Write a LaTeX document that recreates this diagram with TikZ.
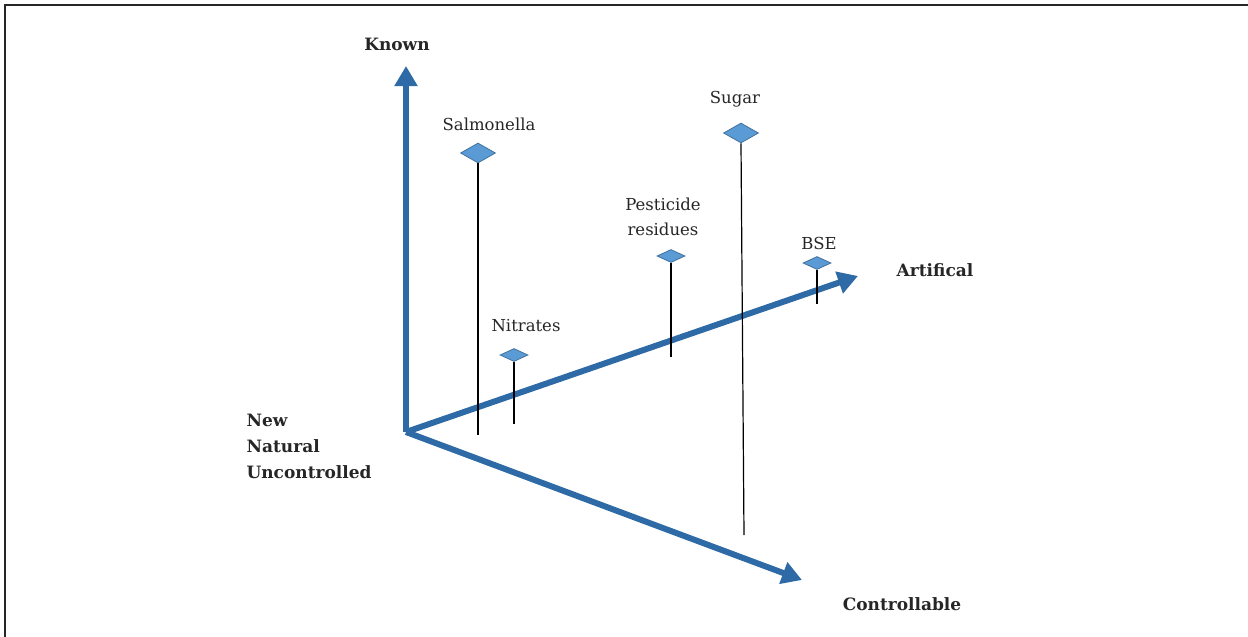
\documentclass[tikz,border=0pt]{standalone}
\usepackage{fontspec}
\setmainfont{DejaVu Serif}
\usepackage{tikz}
\usetikzlibrary{arrows.meta,shapes.geometric}
\usepackage{xcolor}
\definecolor{axisblue}{HTML}{2E6AA5}
\definecolor{markfill}{HTML}{5B9BD5}
\definecolor{markedge}{HTML}{41719C}

\begin{document}
\begin{tikzpicture}[x=1pt,y=-1pt,
  axis/.style={draw=axisblue,line width=6pt,-{Triangle[width=22pt,length=20pt]}},
  marker/.style={diamond,draw=markedge,fill=markfill,line width=0.8pt,inner sep=0pt,
    minimum width=35pt,minimum height=20pt},
  smallmarker/.style={marker,minimum width=28pt,minimum height=13pt},
  stem/.style={draw=black,line width=1.2pt},
  lbl/.style={font=\fontsize{16.5}{25}\selectfont,align=center,text=black!85},
  axislbl/.style={font=\fontsize{17}{26}\selectfont\bfseries,text=black!85}]
  \useasboundingbox (0,0) rectangle (1248,637);
  % frame
  \draw[line width=2.2pt,black!85] (5,637) -- (5,5) -- (1248,5);

  % axes
  \coordinate (origin) at (406,432);
  \coordinate (knowntip) at (406,66);
  \coordinate (arttip) at (858,276);
  \coordinate (contip) at (802,580);
  \draw[axis] (origin) -- (knowntip);
  \draw[axis] (origin) -- (arttip);
  \draw[axis] (origin) -- (contip);
  \node[axislbl] (known) at (397,44) {Known};
  \node[axislbl] (artif) at (935,270) {Artifical};
  \node[axislbl] (contr) at (902,604) {Controllable};
  \node[axislbl,align=left,anchor=west] (newnat) at (243,446) {New\\Natural\\Uncontrolled};

  % hazards
  \node[marker] (salm) at (478,153) {};
  \node[lbl] (salmlbl) at (489,124) {Salmonella};
  \coordinate (salmend) at (478,435);
  \draw[stem] (salm.south) -- (salmend);

  \node[smallmarker] (nitr) at (514,355) {};
  \node[lbl] (nitrlbl) at (526,326) {Nitrates};
  \coordinate (nitrend) at (514,424);
  \draw[stem] (nitr.south) -- (nitrend);

  \node[smallmarker] (pest) at (671,256) {};
  \node[lbl] (pestlbl) at (663,217) {Pesticide\\residues};
  \coordinate (pestend) at (671,357);
  \draw[stem] (pest.south) -- (pestend);

  \node[marker] (sugar) at (741,133) {};
  \node[lbl] (sugarlbl) at (735,99) {Sugar};
  \coordinate (sugarend) at (744,535);
  \draw[stem] (sugar.south) -- (sugarend);

  \node[smallmarker] (bse) at (817,263) {};
  \node[lbl] (bselbl) at (819,243) {BSE};
  \coordinate (bseend) at (817,304);
  \draw[stem] (bse.south) -- (bseend);
\end{tikzpicture}
\end{document}
